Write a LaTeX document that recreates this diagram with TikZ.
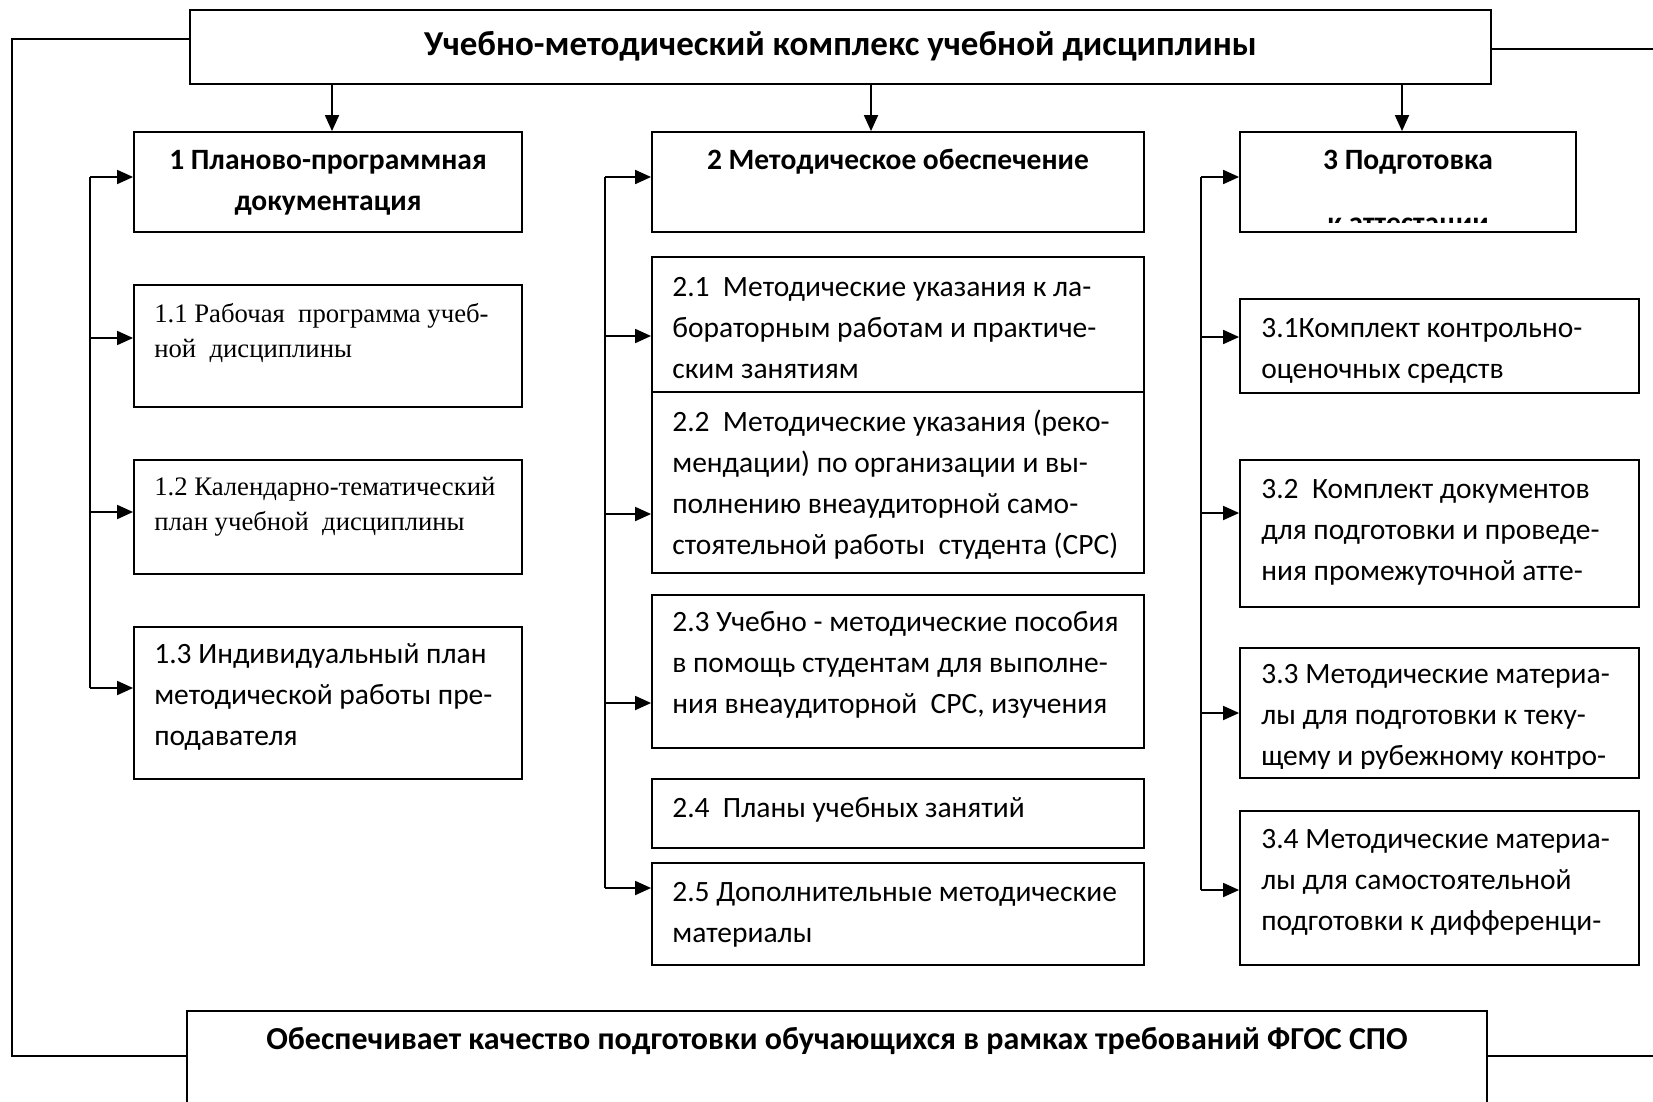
\documentclass[tikz,border=0pt]{standalone}
\usepackage{fontspec}
\setmainfont{Carlito}
\newfontfamily\timesfont{Liberation Serif}
\usetikzlibrary{positioning,arrows.meta}

\begin{document}
\begin{tikzpicture}[
    x=1pt, y=-1pt,
    box/.style={draw, line width=1.8pt, inner sep=0pt},
    txt/.style={anchor=base west, inner sep=0pt, align=left, font=\fontsize{29.5}{41}\selectfont},
    tms/.style={anchor=base west, inner sep=0pt, align=left, font=\timesfont\fontsize{26.7}{35}\selectfont},
    head/.style={anchor=base, inner sep=0pt, align=center, font=\bfseries\fontsize{29.5}{41}\selectfont},
    link/.style={line width=1.8pt},
    arr/.style={line width=1.8pt, -{Triangle[length=16pt,width=14pt]}}
]
\useasboundingbox (0,0) rectangle (1653,1102);

% Top and bottom boxes (text nodes sit on the baseline of their last line)
\node[box, minimum width=1301pt, minimum height=74pt] (top) at (840.5,47) {};
\node[head, font=\bfseries\fontsize{35}{41}\selectfont] (top-t) at ([yshift=-46pt]top.north) {Учебно-методический комплекс учебной дисциплины};
\node[box, minimum width=1300pt, minimum height=200pt] (bot) at (837,1111) {};
\node[head, font=\bfseries\fontsize{32}{41}\selectfont] (bot-t) at ([yshift=-39pt]bot.north) {Обеспечивает качество подготовки обучающихся в рамках требований ФГОС СПО};

% Column 1
\node[box, minimum width=388pt, minimum height=100pt] (c1) at (328,182) {};
\node[head] (c1-t) at ([yshift=-79pt]c1.north) {1 Планово-программная\\документация};
\node[box, minimum width=388pt, minimum height=122pt] (b11) at (328,346) {};
\node[tms] (b11-t) at ([shift={(21,73)}]b11.north west) {1.1 Рабочая~ программа учеб-\\ной~ дисциплины};
\node[box, minimum width=388pt, minimum height=114pt] (b12) at (328,517) {};
\node[tms] (b12-t) at ([shift={(21,71)}]b12.north west) {1.2 Календарно-тематический\\план учебной~ дисциплины};
\node[box, minimum width=388pt, minimum height=152pt] (b13) at (328,703) {};
\node[txt] (b13-t) at ([shift={(21,119)}]b13.north west) {1.3 Индивидуальный план\\методической работы пре-\\подавателя};

% Column 2
\node[box, minimum width=492pt, minimum height=100pt] (c2) at (898,182) {};
\node[head] (c2-t) at ([yshift=-38pt]c2.north) {2 Методическое обеспечение};
\node[box, minimum width=492pt, minimum height=135pt] (b21) at (898,324.5) {};
\node[txt] (b21-t) at ([shift={(21,122)}]b21.north west) {2.1~ Методические указания к ла-\\бораторным работам и практиче-\\ским занятиям};
\node[box, minimum width=492pt, minimum height=181pt] (b22) at (898,482.5) {};
\node[txt] (b22-t) at ([shift={(21,163)}]b22.north west) {2.2~ Методические указания (реко-\\мендации) по организации и вы-\\полнению внеаудиторной само-\\стоятельной работы~ студента (СРС)};
\node[box, minimum width=492pt, minimum height=153pt] (b23) at (898,671.5) {};
\node[txt] (b23-t) at ([shift={(21,119)}]b23.north west) {2.3 Учебно - методические пособия\\в помощь студентам для выполне-\\ния внеаудиторной~ СРС, изучения};
\node[box, minimum width=492pt, minimum height=69pt] (b24) at (898,813.5) {};
\node[txt] (b24-t) at ([shift={(21,39)}]b24.north west) {2.4~ Планы учебных занятий};
\node[box, minimum width=492pt, minimum height=102pt] (b25) at (898,914) {};
\node[txt] (b25-t) at ([shift={(21,80)}]b25.north west) {2.5 Дополнительные методические\\материалы};

% Column 3 (text cut off a little above the box bottom)
\node[box, minimum width=336pt, minimum height=100pt] (c3) at (1408,182) {};
\begin{scope}
  \clip ([yshift=10pt]c3.south west) rectangle (c3.north east);
  \node[head] (c3-t) at ([yshift=-101pt]c3.north) {3 Подготовка\\[22pt]к аттестации};
\end{scope}
\node[box, minimum width=399pt, minimum height=94pt] (b31) at (1439.5,346) {};
\node[txt] (b31-t) at ([shift={(22,80)}]b31.north west) {3.1Комплект контрольно-\\оценочных средств};
\node[box, minimum width=399pt, minimum height=147pt] (b32) at (1439.5,533.5) {};
\node[txt] (b32-t) at ([shift={(22,121)}]b32.north west) {3.2~ Комплект документов\\для подготовки и проведе-\\ния промежуточной атте-};
\node[box, minimum width=399pt, minimum height=130pt] (b33) at (1439.5,713) {};
\begin{scope}
  \clip ([yshift=10pt]b33.south west) rectangle (b33.north east);
  \node[txt] (b33-t) at ([shift={(22,118)}]b33.north west) {3.3 Методические материа-\\лы для подготовки к теку-\\щему и рубежному контро-};
\end{scope}
\node[box, minimum width=399pt, minimum height=154pt] (b34) at (1439.5,888) {};
\node[txt] (b34-t) at ([shift={(22,120)}]b34.north west) {3.4 Методические материа-\\лы для самостоятельной\\подготовки к дифференци-};

% Arrows from the top box
\draw[arr] ([xshift=4pt]c1.north |- top.south) -- ([xshift=4pt]c1.north);
\draw[arr] ([xshift=-27pt]c2.north |- top.south) -- ([xshift=-27pt]c2.north);
\draw[arr] ([xshift=-6pt]c3.north |- top.south) -- ([xshift=-6pt]c3.north);

% Branch lines
\coordinate (l1a) at (90,177);
\coordinate (l1b) at (90,338);
\coordinate (l1c) at (90,512);
\coordinate (l1d) at (90,688);
\draw[link] (l1a) -- (l1d);
\draw[arr] (l1a) -- (l1a -| c1.west);
\draw[arr] (l1b) -- (l1b -| b11.west);
\draw[arr] (l1c) -- (l1c -| b12.west);
\draw[arr] (l1d) -- (l1d -| b13.west);

\coordinate (l2a) at (605,177);
\coordinate (l2b) at (605,336);
\coordinate (l2c) at (605,514);
\coordinate (l2d) at (605,703);
\coordinate (l2e) at (605,888);
\draw[link] (l2a) -- (l2e);
\draw[arr] (l2a) -- (l2a -| c2.west);
\draw[arr] (l2b) -- (l2b -| b21.west);
\draw[arr] (l2c) -- (l2c -| b22.west);
\draw[arr] (l2d) -- (l2d -| b23.west);
\draw[arr] (l2e) -- (l2e -| b25.west);

\coordinate (l3a) at (1201,177);
\coordinate (l3b) at (1201,337);
\coordinate (l3c) at (1201,513);
\coordinate (l3d) at (1201,713);
\coordinate (l3e) at (1201,890);
\draw[link] (l3a) -- (l3e);
\draw[arr] (l3a) -- (l3a -| c3.west);
\draw[arr] (l3b) -- (l3b -| b31.west);
\draw[arr] (l3c) -- (l3c -| b32.west);
\draw[arr] (l3d) -- (l3d -| b33.west);
\draw[arr] (l3e) -- (l3e -| b34.west);

% Outer links between top and bottom boxes
\coordinate (lt) at (12,39);
\coordinate (lb) at (12,1056);
\coordinate (rt) at (1653,49);
\coordinate (rb) at (1653,1056);
\draw[link] (top.west |- lt) -- (lt) -- (lb) -- (lb -| bot.west);
\draw[link] (top.east |- rt) -- (rt);
\draw[link] (bot.east |- rb) -- (rb);

\end{tikzpicture}
\end{document}
